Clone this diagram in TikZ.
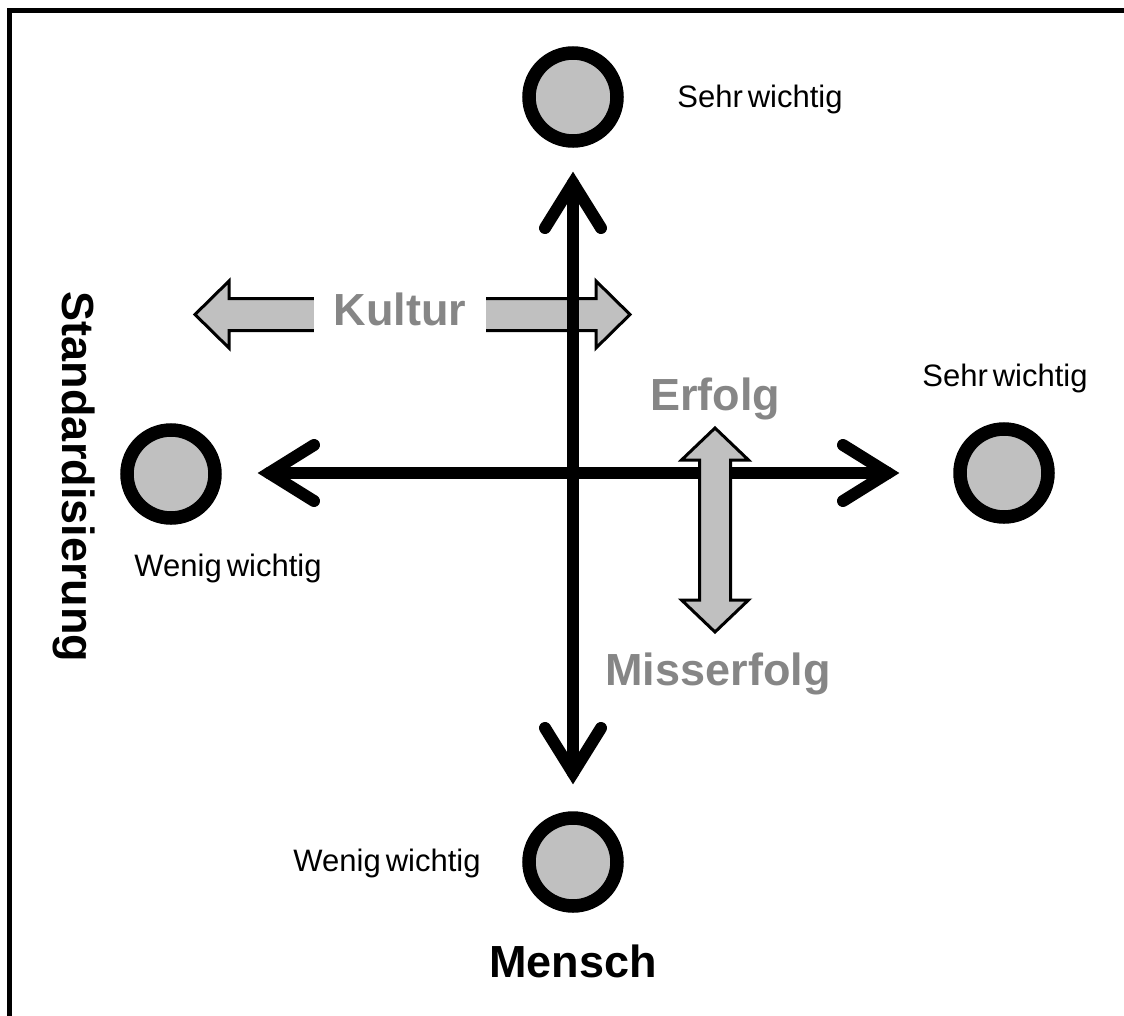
\documentclass[tikz,border=0pt]{standalone}
\usepackage{fontspec}
\setmainfont{Liberation Sans}
\usetikzlibrary{calc}
\definecolor{discfill}{RGB}{192,192,192}
\definecolor{labelgray}{RGB}{134,134,134}
\begin{document}
\begin{tikzpicture}[x=1pt,y=-1pt,
  disc/.style={circle, draw=black, line width=13.5pt, fill=discfill,
    minimum size=88pt, inner sep=0pt},
  axis/.style={line width=12pt, line cap=round},
  barb/.style={line width=12pt, line cap=round, line join=miter},
  blockarrow/.style={draw=black, line width=3pt, fill=discfill, line join=miter},
  small/.style={font={\fontsize{31}{36}\selectfont\spaceskip=5pt\relax},
    inner sep=0pt, anchor=base},
  big/.style={font=\fontsize{45}{54}\selectfont\bfseries, inner sep=0pt, anchor=base},
]
\clip (0,0) rectangle (1124,1015);
\fill[white] (0,0) rectangle (1124,1015);
% outer frame
\draw[line width=5pt] (9.5,10.5) rectangle (1140,1030);

% Kultur: double block arrow, partly hidden by its label
\draw[blockarrow] (195,314.5) -- (229,281) -- (229,298.5) -- (596,298.5)
  -- (596,281) -- (630,314.5) -- (596,348) -- (596,330.5) -- (229,330.5)
  -- (229,348) -- cycle;
\node[big, text=labelgray, fill=white, minimum width=172pt, text depth=6pt,
  minimum height=44pt] (kultur) at (400,325) {Kultur};

% axes
\coordinate (vtop) at (573,183);
\coordinate (vbot) at (573,773);
\coordinate (hl) at (269,473);
\coordinate (hr) at (888,473);
\draw[axis] (vtop) -- (vbot);
\draw[axis] (hl) -- (hr);
\draw[barb] ($(vtop)+(-28,45)$) -- (vtop) -- ($(vtop)+(28,45)$);
\draw[barb] ($(vbot)+(-28,-45)$) -- (vbot) -- ($(vbot)+(28,-45)$);
\draw[barb] ($(hl)+(45,-28)$) -- (hl) -- ($(hl)+(45,28)$);
\draw[barb] ($(hr)+(-45,-28)$) -- (hr) -- ($(hr)+(-45,28)$);

% Erfolg / Misserfolg: vertical double block arrow
\draw[blockarrow] (715,428) -- (748.5,460) -- (730.5,460) -- (730.5,600)
  -- (748.5,600) -- (715,632) -- (681.5,600) -- (699.5,600) -- (699.5,460)
  -- (681.5,460) -- cycle;

% end points of the axes
\node[disc] (top) at (573,97) {};
\node[disc] (left) at (171,474) {};
\node[disc] (right) at (1004,473) {};
\node[disc] (bottom) at (573,862) {};

% labels
\node[small] (sehrTop) at (760,107) {Sehr wichtig};
\node[small] (sehrRight) at (1005,386) {Sehr wichtig};
\node[small] (wenigLeft) at (228,576) {Wenig wichtig};
\node[small] (wenigBottom) at (387,871) {Wenig wichtig};
\node[big] (mensch) at (573,977) {Mensch};
\node[big, rotate=-90] (standard) at (62,477) {Standardisierung};
\node[big, text=labelgray] (erfolg) at (715,410) {Erfolg};
\node[big, text=labelgray] (misserfolg) at (718,685) {Misserfolg};
\end{tikzpicture}
\end{document}
